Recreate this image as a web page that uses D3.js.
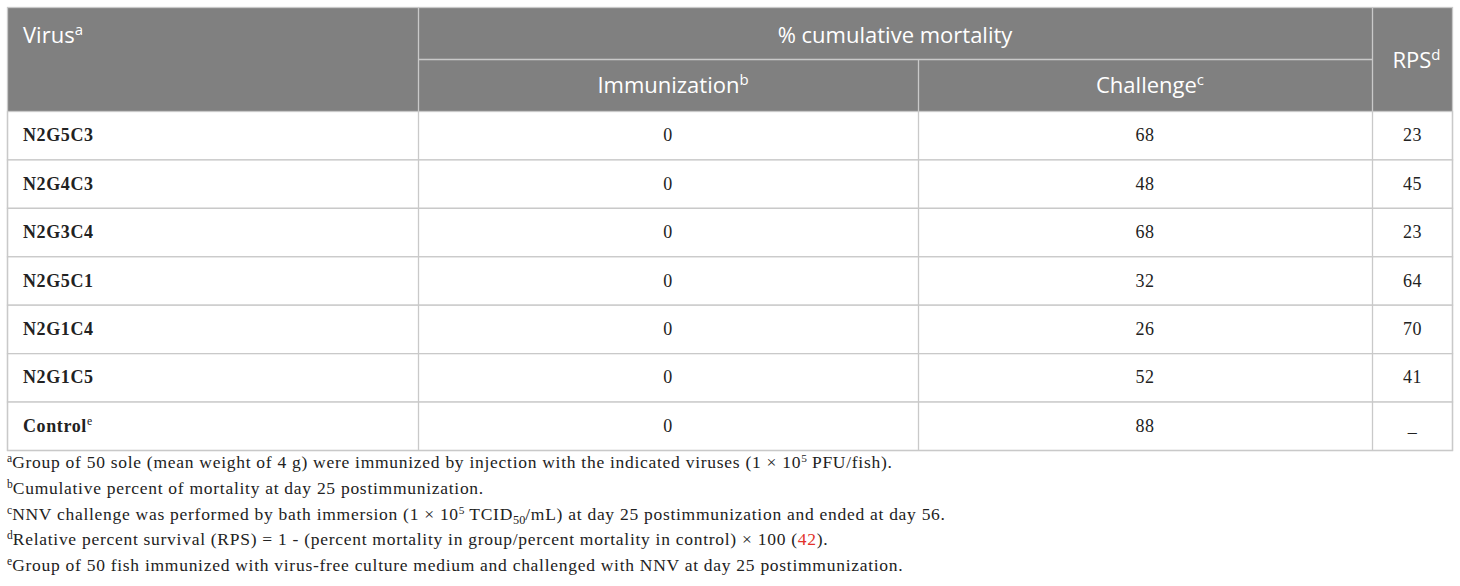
<!DOCTYPE html>
<html>
<head>
<meta charset="utf-8">
<script src="https://cdnjs.cloudflare.com/ajax/libs/d3/7.8.5/d3.min.js"></script>
<style>
  body { margin: 0; background: #fff; }
  .hd { font-family: "Open Sans", sans-serif; font-size: 22px; fill: #fff; }
  .cell { font-family: "Liberation Serif", "Times New Roman", serif; font-size: 18px; letter-spacing: 0.6px; fill: #222; }
  .note { font-family: "Liberation Serif", "Times New Roman", serif; font-size: 17.5px; letter-spacing: 0.72px; fill: #222; }
</style>
</head>
<body>
<script>
var viruses = ['N2G5C3', 'N2G4C3', 'N2G3C4', 'N2G5C1', 'N2G1C4', 'N2G1C5', 'Control'];
var virusSup = ['', '', '', '', '', '', 'e'];
var immunization = [0, 0, 0, 0, 0, 0, 0];
var challenge = [68, 48, 68, 32, 26, 52, 88];
var rps = ['23', '45', '23', '64', '70', '41', '\u2013'];

// footnotes: [superscript letter, segments]; segment = [text, kind]
var notes = [
  ['a', [['Group of 50 sole (mean weight of 4 g) were immunized by injection with the indicated viruses (1 \u00d7 10', ''], ['5', 'sup'], [' PFU/fish).', '']]],
  ['b', [['Cumulative percent of mortality at day 25 postimmunization.', '']]],
  ['c', [['NNV challenge was performed by bath immersion (1 \u00d7 10', ''], ['5', 'sup'], [' TCID', ''], ['50', 'sub'], ['/mL) at day 25 postimmunization and ended at day 56.', '']]],
  ['d', [['Relative percent survival (RPS) = 1 - (percent mortality in group/percent mortality in control) \u00d7 100 (', ''], ['42', 'ref'], [').', '']]],
  ['e', [['Group of 50 fish immunized with virus-free culture medium and challenged with NNV at day 25 postimmunization.', '']]]
];

var w = 1460, h = 586;
var colEdges = [7, 418, 918, 1372, 1453];
var tableTop = 7, headMid = 59, headBottom = 111, tableBottom = 450;
var grid = '#c9c9c9', headBg = '#808080';

var svg = d3.select('body').append('svg')
  .attr('width', w).attr('height', h);

var y = d3.scaleBand().domain(viruses).range([headBottom, tableBottom]);

// header background
svg.append('rect')
  .attr('x', colEdges[0]).attr('y', tableTop)
  .attr('width', colEdges[4] - colEdges[0]).attr('height', headBottom - tableTop)
  .attr('fill', headBg);

// body rows
svg.selectAll('rect.row')
  .data(viruses)
  .enter().append('rect')
  .attr('class', 'row')
  .attr('x', colEdges[0] + 0.5)
  .attr('y', function(d) { return y(d) + 0.5; })
  .attr('width', colEdges[4] - colEdges[0] - 1)
  .attr('height', y.bandwidth())
  .attr('fill', '#fff')
  .attr('stroke', grid)
  .attr('stroke-width', 1.3);

// grid lines
var g = svg.append('g').attr('stroke', grid).attr('stroke-width', 1.3);
colEdges.slice(1, 4).forEach(function(x, i) {
  g.append('line')
    .attr('x1', x + 0.5).attr('x2', x + 0.5)
    .attr('y1', (i === 1) ? headMid : tableTop).attr('y2', tableBottom);
});
g.append('line')
  .attr('x1', colEdges[1]).attr('x2', colEdges[3])
  .attr('y1', headMid + 0.5).attr('y2', headMid + 0.5);
g.append('rect')
  .attr('x', colEdges[0] + 0.5).attr('y', tableTop + 0.5)
  .attr('width', colEdges[4] - colEdges[0] - 1).attr('height', tableBottom - tableTop)
  .attr('fill', 'none');

function sup(t, s) {
  t.append('tspan').attr('font-size', '0.68em').attr('dy', '-0.55em').text(s);
}

// header text
var t1 = svg.append('text').attr('class', 'hd').attr('x', 23).attr('y', 43).text('Virus');
sup(t1, 'a');
svg.append('text').attr('class', 'hd').attr('x', (colEdges[1] + colEdges[3]) / 2).attr('y', 43)
  .attr('text-anchor', 'middle').text('% cumulative mortality');
var t2 = svg.append('text').attr('class', 'hd').attr('x', (colEdges[1] + colEdges[2]) / 2 + 5).attr('y', 93)
  .attr('text-anchor', 'middle').text('Immunization');
sup(t2, 'b');
var t3 = svg.append('text').attr('class', 'hd').attr('x', (colEdges[2] + colEdges[3]) / 2 + 5).attr('y', 93)
  .attr('text-anchor', 'middle').text('Challenge');
sup(t3, 'c');
var t4 = svg.append('text').attr('class', 'hd').attr('x', (colEdges[3] + colEdges[4]) / 2 + 4).attr('y', 68)
  .attr('text-anchor', 'middle').text('RPS');
sup(t4, 'd');

// body text
var cy = function(d) { return y(d) + y.bandwidth() / 2 + 6; };
var names = svg.selectAll('text.name')
  .data(viruses)
  .enter().append('text')
  .attr('class', 'cell')
  .attr('x', 23)
  .attr('y', cy)
  .attr('font-weight', 'bold')
  .text(function(d) { return d; });
names.filter(function(d, i) { return virusSup[i]; })
  .append('tspan').attr('font-size', '0.65em').attr('font-weight', 'normal').attr('dy', '-0.6em')
  .text(function(d) { return virusSup[viruses.indexOf(d)]; });

var cols = [immunization, challenge, rps];
cols.forEach(function(vals, c) {
  svg.selectAll('text.c' + c)
    .data(vals)
    .enter().append('text')
    .attr('class', 'cell')
    .attr('text-anchor', 'middle')
    .attr('x', (colEdges[c + 1] + colEdges[c + 2]) / 2)
    .attr('y', function(d, i) { return cy(viruses[i]) + (typeof d === 'string' && isNaN(+d) ? 6 : 0); })
    .text(function(d) { return d; });
});

// footnotes
var ny = d3.scaleLinear().domain([0, notes.length - 1]).range([468, 571]);
var shift = { '': 0, ref: 0, sup: -6, sub: 4 };
notes.forEach(function(n, i) {
  var t = svg.append('text').attr('class', 'note').attr('x', 7).attr('y', ny(i));
  t.append('tspan').attr('font-size', '0.66em').attr('letter-spacing', 0).attr('dy', -6).text(n[0]);
  var offset = -6;
  n[1].forEach(function(seg) {
    var sp = t.append('tspan').text(seg[0]);
    var target = shift[seg[1]];
    sp.attr('dy', target - offset);
    offset = target;
    if (seg[1] === 'sup') sp.attr('font-size', '0.65em').attr('letter-spacing', 0);
    if (seg[1] === 'sub') sp.attr('font-size', '0.7em').attr('letter-spacing', 0);
    if (seg[1] === 'ref') sp.attr('fill', '#e2312b');
  });
});
</script>
</body>
</html>
